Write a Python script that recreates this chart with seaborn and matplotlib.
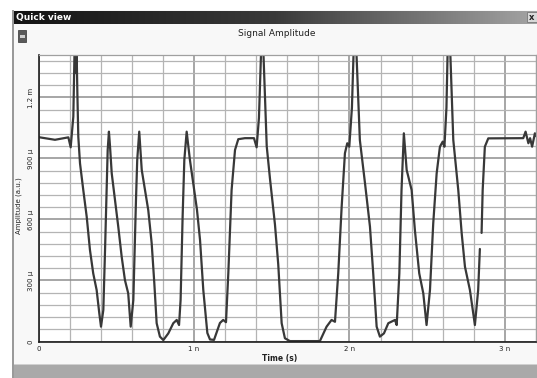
import numpy as np
import pandas as pd
import matplotlib
matplotlib.use("Agg")
import matplotlib.pyplot as plt
from matplotlib.patches import Rectangle
from matplotlib.colors import LinearSegmentedColormap
import seaborn as sns

# signal (time in ns, amplitude in micro a.u.)
time_ns = [0.000, 0.042, 0.106, 0.192, 0.207, 0.224, 0.233, 0.240, 0.244, 0.250,
           0.256, 0.267, 0.288, 0.310, 0.331, 0.352, 0.374, 0.391, 0.402, 0.417,
           0.428, 0.439, 0.445, 0.453, 0.460, 0.471, 0.492, 0.513, 0.535, 0.556,
           0.577, 0.593, 0.610, 0.627, 0.635, 0.648, 0.664, 0.685, 0.706, 0.728,
           0.745, 0.760, 0.781, 0.803, 0.835, 0.867, 0.889, 0.904, 0.914, 0.927,
           0.938, 0.953, 0.974, 0.995, 1.019, 1.039, 1.060, 1.086, 1.103, 1.129,
           1.167, 1.188, 1.206, 1.221, 1.242, 1.264, 1.285, 1.328, 1.386, 1.403,
           1.418, 1.434, 1.444, 1.468, 1.489, 1.521, 1.542, 1.564, 1.585, 1.617,
           1.810, 1.853, 1.885, 1.907, 1.928, 1.950, 1.971, 1.986, 1.999, 2.016,
           2.029, 2.042, 2.067, 2.100, 2.132, 2.153, 2.175, 2.196, 2.222, 2.250,
           2.293, 2.304, 2.321, 2.335, 2.350, 2.368, 2.400, 2.421, 2.449, 2.475,
           2.496, 2.518, 2.539, 2.561, 2.582, 2.600, 2.611, 2.624, 2.633, 2.646,
           2.668, 2.700, 2.722, 2.743, 2.775, 2.807, 2.828, 2.839,
           2.850, 2.857, 2.871, 2.893, 3.118, 3.133, 3.151, 3.162, 3.175, 3.193, 3.200]
amp_u = [1005, 1000, 992, 1004, 955, 1106, 1480, 1320, 1480, 1221,
         1007, 876, 745, 614, 450, 335, 253, 139, 73, 155,
         450, 778, 942, 1032, 960, 827, 696, 565, 417, 302,
         237, 73, 204, 696, 893, 1032, 844, 745, 646, 483,
         286, 90, 24, 7, 40, 90, 106, 81, 204, 614,
         893, 1032, 893, 778, 650, 499, 253, 42, 10, 8,
         91, 106, 95, 337, 745, 942, 995, 1000, 1000, 955,
         1100, 1480, 1480, 960, 800, 575, 380, 90, 16, 2,
         2, 73, 106, 97, 335, 663, 926, 975, 958, 1150,
         1480, 1480, 991, 779, 565, 335, 73, 24, 40, 90,
         106, 81, 335, 745, 1024, 844, 745, 548, 335, 237,
         81, 253, 581, 827, 958, 983, 958, 1150, 1480, 1480,
         991, 745, 532, 368, 253, 81, 253, 455,
         534, 745, 958, 999, 1000, 1032, 975, 1000, 958, 1024, 1010]
# the trace has a small break near 2.84 ns
segment = [0] * 128 + [1] * 11

y_ticks = [0, 300, 600, 900, 1200]
y_labels = ["0", "300 \u03bc", "600 \u03bc", "900 \u03bc", "1.2 m"]
x_ticks = [0, 1, 2, 3]
x_labels = ["0", "1 n", "2 n", "3 n"]

df = pd.DataFrame({"t": time_ns, "amp": amp_u, "seg": segment})

sns.set_style("white")
plt.rcParams["font.family"] = ["DejaVu Sans"]

W, H = 537, 378
fig = plt.figure(figsize=(W / 100, H / 100), dpi=100)
fig.patch.set_facecolor("#f8f8f8")

# window chrome
fig.add_artist(Rectangle((0, 0), 12 / W, 1, transform=fig.transFigure,
                         facecolor="white", edgecolor="none", zorder=0))
fig.add_artist(Rectangle((0, 1 - 10 / H), 1, 10 / H, transform=fig.transFigure,
                         facecolor="white", edgecolor="none", zorder=0))
fig.add_artist(Rectangle((12 / W, 0), 1.5 / W, 1 - 10 / H, transform=fig.transFigure,
                         facecolor="#9a9a9a", edgecolor="none", zorder=1))
fig.add_artist(Rectangle((13.5 / W, 0), 1, 13 / H, transform=fig.transFigure,
                         facecolor="#a9a9a9", edgecolor="none", zorder=1))
fig.add_artist(Rectangle((13.5 / W, 13 / H), 1, 1.5 / H, transform=fig.transFigure,
                         facecolor="#d0d0d0", edgecolor="none", zorder=1))

bar = fig.add_axes([13.5 / W, 1 - 24 / H, 1 - 13.5 / W, 13 / H])
cmap = LinearSegmentedColormap.from_list("bar", ["#141414", "#3a3a3a", "#a4a4a4"])
bar.imshow(np.linspace(0, 1, 256)[None, :], cmap=cmap, aspect="auto")
bar.set_axis_off()
fig.text(16 / W, 1 - 17.5 / H, "Quick view", color="white", fontsize=6.5,
         fontweight="bold", va="center", ha="left")
fig.add_artist(Rectangle((527 / W, 1 - 22 / H), 10 / W, 10 / H, transform=fig.transFigure,
                         facecolor="#d8d8d8", edgecolor="#777777", lw=0.6, zorder=5))
fig.text(532 / W, 1 - 17 / H, "x", color="#222222", fontsize=6, fontweight="bold",
         va="center", ha="center", zorder=6)

# little document icon
fig.add_artist(Rectangle((18 / W, 1 - 42 / H), 8 / W, 12 / H, transform=fig.transFigure,
                         facecolor="#5a5a5a", edgecolor="#333333", lw=0.5, zorder=5))
fig.add_artist(Rectangle((19.5 / W, 1 - 38 / H), 5 / W, 2.5 / H, transform=fig.transFigure,
                         facecolor="#d0d0d0", edgecolor="none", zorder=6))

fig.text(277 / W, 1 - 34 / H, "Signal Amplitude", fontsize=6.5, color="#222222",
         ha="center", va="center")

# plot area
ax = fig.add_axes([38.5 / W, 1 - 341.5 / H, (536 - 38.5) / W, (341.5 - 55) / H])
ax.set_facecolor("white")
sns.lineplot(data=df, x="t", y="amp", units="seg", estimator=None, ax=ax,
             color="#383838", lw=1.6, legend=False)

ax.set_xlim(0, 3.2)
ax.set_ylim(0, 1409)
ax.set_xticks(x_ticks)
ax.set_xticklabels(x_labels)
ax.set_xticks(np.arange(0, 3.21, 0.2), minor=True)
ax.set_yticks(y_ticks)
ax.set_yticklabels(y_labels, rotation=90, va="center")
ax.set_yticks(np.arange(0, 1401, 60), minor=True)

ax.grid(which="minor", color="#b4b4b4", lw=0.9)
ax.grid(which="major", color="#8e8e8e", lw=1.1)
ax.set_axisbelow(True)

ax.tick_params(which="both", direction="inout", length=3, width=0.8, color="#222222",
               labelsize=5, labelcolor="#222222", pad=2)
ax.tick_params(axis="y", which="both", pad=2)

for side in ["top", "right"]:
    ax.spines[side].set_color("#a0a0a0")
    ax.spines[side].set_linewidth(0.9)
for side in ["left", "bottom"]:
    ax.spines[side].set_color("#1e1e1e")
    ax.spines[side].set_linewidth(1.2)

ax.set_xlabel("")
ax.set_ylabel("")
fig.text(280 / W, 1 - 359 / H, "Time (s)", fontsize=5.5, fontweight="bold",
         color="#222222", ha="center", va="center")
fig.text(18.5 / W, 1 - 206 / H, "Amplitude (a.u.)", fontsize=5, rotation=90,
         color="#222222", ha="center", va="center")

fig.savefig("out.png", dpi=100)
